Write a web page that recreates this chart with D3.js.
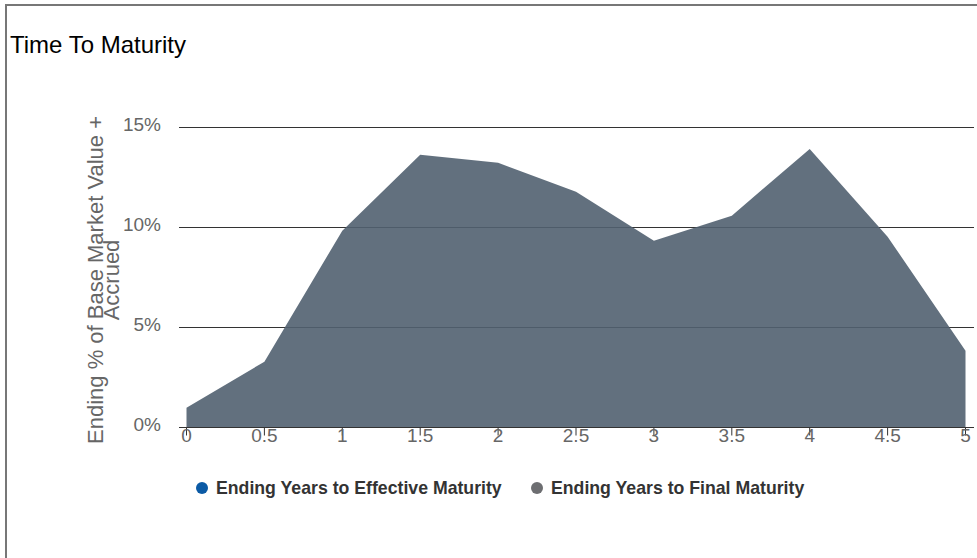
<!DOCTYPE html>
<html>
<head>
<meta charset="utf-8">
<script src="https://cdn.jsdelivr.net/npm/d3@7"></script>
<style>
  body { margin: 0; background: #fff; font-family: Arial, "Liberation Sans", sans-serif; }
  svg { display: block; }
</style>
</head>
<body>
<div id="chart"></div>
<script>
// Chart data
var years = [0, 0.5, 1, 1.5, 2, 2.5, 3, 3.5, 4, 4.5, 5];
var finalMaturity = [0.99, 3.29, 9.84, 13.64, 13.24, 11.79, 9.34, 10.59, 13.93, 9.54, 3.84];
var yTicks = [0, 5, 10, 15];
var legendNames = ["Ending Years to Effective Maturity", "Ending Years to Final Maturity"];
var legendColors = ["#0b5aa5", "#6d6e71"];

var width = 977, height = 558;

var svg = d3.select('#chart')
  .append('svg')
    .attr('width', width)
    .attr('height', height);

// frame
svg.append("rect")
  .attr("x", 6)
  .attr("y", 5)
  .attr("width", 1200)
  .attr("height", 800)
  .attr("fill", "none")
  .attr("stroke", "#777")
  .attr("stroke-width", 2);

// title
svg.append("text")
  .attr("x", 10)
  .attr("y", 53)
  .style("font-size", "24px")
  .style("fill", "#000")
  .text("Time To Maturity");

var data = years.map(function(d, i) { return {x: d, v: finalMaturity[i]}; });

// scales
var x = d3.scaleLinear()
  .domain([0, 5])
  .range([186, 965]);

var y = d3.scaleLinear()
  .domain([0, 15])
  .range([427, 127]);

var gridLeft = 179, gridRight = 974;

// gridlines + y labels
var y_axis = svg.append("g")
  .attr("class", "y-axis")
  .attr("transform", `translate(${gridLeft},0)`)
  .call(d3.axisLeft(y)
    .tickValues(yTicks)
    .tickSize(-(gridRight - gridLeft))
    .tickPadding(18)
    .tickFormat(d => d + "%"));
y_axis.select(".domain").remove();
y_axis.selectAll("line").attr("stroke", "#333");
y_axis.selectAll("text")
  .style("font-family", "Arial, 'Liberation Sans', sans-serif")
  .style("font-size", "19px")
  .attr("dy", "0.18em")
  .attr("fill", "#666");

// area
var area = d3.area()
  .x(d => x(d.x) + 0.5)
  .y0(y(0) + 0.5)
  .y1(d => y(d.v) + 0.5);

svg.append("path")
  .datum(data)
  .attr("fill", "#516170")
  .attr("fill-opacity", 0.9)
  .attr("d", area);

// x axis
var x_axis = svg.append("g")
  .attr("class", "x-axis")
  .attr("transform", `translate(0,${y(0) + 0.5})`)
  .call(d3.axisBottom(x)
    .tickValues(years)
    .tickSize(8)
    .tickPadding(-7)
    .tickFormat(d => d));
x_axis.select(".domain").remove();
x_axis.selectAll("line").attr("stroke", "#333");
x_axis.selectAll("text")
  .style("font-family", "Arial, 'Liberation Sans', sans-serif")
  .style("font-size", "19px")
  .attr("fill", "#666");

// axis line
svg.append("line")
  .attr("x1", gridLeft)
  .attr("x2", gridRight)
  .attr("y1", y(0) + 0.5)
  .attr("y2", y(0) + 0.5)
  .attr("stroke", "#333");

// y axis title
var yTitle = svg.append("text")
  .attr("transform", "translate(103,280) rotate(-90)")
  .attr("text-anchor", "middle")
  .style("font-size", "22px")
  .style("fill", "#666");
yTitle.append("tspan").attr("x", 0).attr("dy", 0).text("Ending % of Base Market Value +");
yTitle.append("tspan").attr("x", 0).attr("dy", 16).text("Accrued");

// legend
var legend = svg.append("g").attr("class", "legend");
var legendX = [202, 537];
legendNames.forEach(function(name, i) {
  legend.append("circle")
    .attr("cx", legendX[i])
    .attr("cy", 488)
    .attr("r", 6)
    .attr("fill", legendColors[i]);
  legend.append("text")
    .attr("x", legendX[i] + 14)
    .attr("y", 494)
    .style("font-size", "17.7px")
    .style("font-weight", "bold")
    .style("fill", "#333")
    .text(name);
});
</script>
</body>
</html>
